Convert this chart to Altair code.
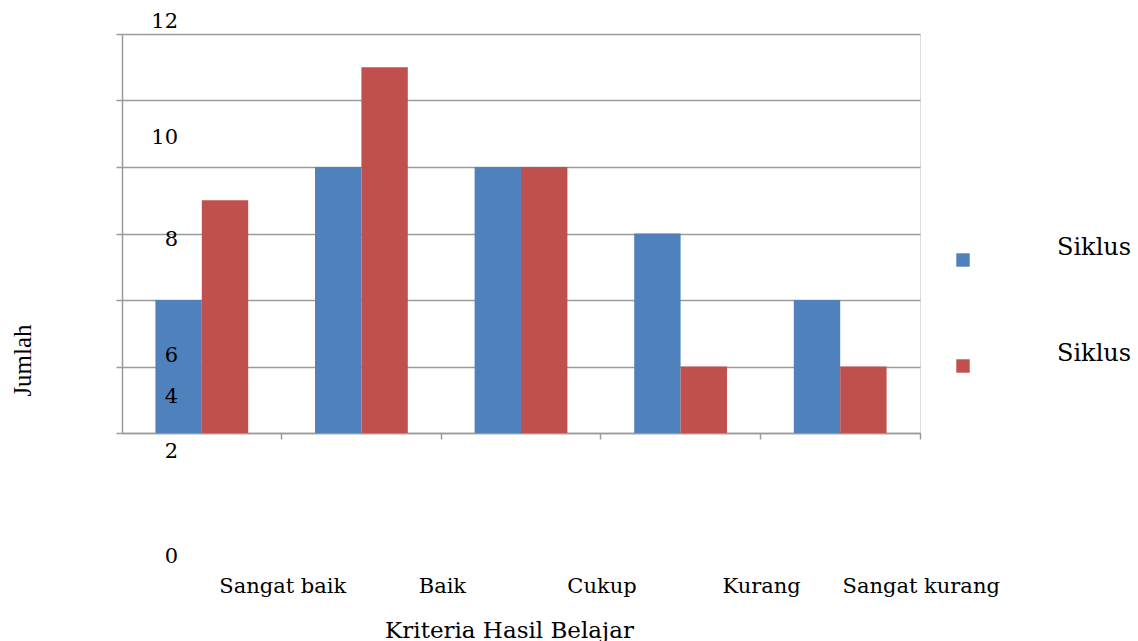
import altair as alt
import pandas as pd

categories = ["Sangat baik", "Baik", "Cukup", "Kurang", "Sangat kurang"]
series = ["Siklus I", "Siklus II"]
siklus1 = [4, 8, 8, 6, 4]
siklus2 = [7, 11, 8, 2, 2]

# tick labels as they appear in the reference (misplaced labels)
tick_labels = ["12", "10", "8", "6", "4", "2", "0"]
tick_label_pos = [12.36, 8.87, 5.80, 2.32, 1.08, -0.57, -3.73]

rows = []
for c, a, b in zip(categories, siklus1, siklus2):
    rows.append({"Kriteria": c, "Siklus": series[0], "Jumlah": a})
    rows.append({"Kriteria": c, "Siklus": series[1], "Jumlah": b})
df = pd.DataFrame(rows)
lab = pd.DataFrame({"label": tick_labels, "pos": tick_label_pos})

FONT = "DejaVu Serif"

bars = alt.Chart(df).mark_bar().encode(
    x=alt.X("Kriteria:N", sort=categories,
            scale=alt.Scale(paddingInner=0, paddingOuter=0),
            axis=alt.Axis(title="Kriteria Hasil Belajar", bandPosition=1,
                          labelAngle=0, labelOffset=81, labelPadding=136,
                          labelFont=FONT, labelFontSize=21, labelColor="#000000",
                          labelOverlap=False, labelLimit=300,
                          titleFont=FONT, titleFontSize=23, titleFontWeight="normal",
                          titleColor="#000000", titleX=387, titleY=197,
                          titleAlign="center", titleBaseline="middle",
                          domainColor="#9a9a9a", tickColor="#9a9a9a",
                          tickSize=6, domainWidth=1.5, tickWidth=1.5)),
    xOffset=alt.XOffset("Siklus:N", sort=series,
                        scale=alt.Scale(paddingInner=0, paddingOuter=0.72)),
    y=alt.Y("Jumlah:Q", scale=alt.Scale(domain=[0, 12]),
            axis=alt.Axis(title="Jumlah", values=[0, 2, 4, 6, 8, 10, 12],
                          labels=False, grid=True, gridColor="#9a9a9a",
                          gridWidth=1.5, domainColor="#9a9a9a", domainWidth=1.5,
                          tickColor="#9a9a9a", tickWidth=1.5, tickSize=6,
                          titleFont="Liberation Serif", titleFontSize=25,
                          titleFontWeight="normal", titleColor="#000000",
                          titleX=-100, titleY=326, titleAlign="center",
                          titleBaseline="middle", titleAngle=270)),
    color=alt.Color("Siklus:N", sort=series,
                    scale=alt.Scale(domain=series, range=["#4F81BD", "#C0504D"]),
                    legend=alt.Legend(title=None, orient="none", legendX=829,
                                      legendY=214, symbolType="square",
                                      symbolSize=180, symbolStrokeWidth=0,
                                      labelOffset=82, rowPadding=75,
                                      labelFont=FONT, labelFontSize=24,
                                      labelColor="#000000", labelBaseline="bottom",
                                      labelLimit=300)),
)

ylabels = alt.Chart(lab).mark_text(font=FONT, fontSize=21, color="#000000",
                                   baseline="middle", align="right").encode(
    x=alt.value(56),
    y=alt.Y("pos:Q", scale=alt.Scale(domain=[0, 12])),
    text="label:N",
)

chart = alt.layer(bars, ylabels).properties(
    width=798, height=399,
    autosize=alt.AutoSizeParams(type="none"),
    padding={"left": 122, "top": 34, "right": 218, "bottom": 208},
).configure_view(stroke=None).configure(background="#ffffff")

chart.save("out.html", embed_options={"renderer": "svg", "actions": False})
